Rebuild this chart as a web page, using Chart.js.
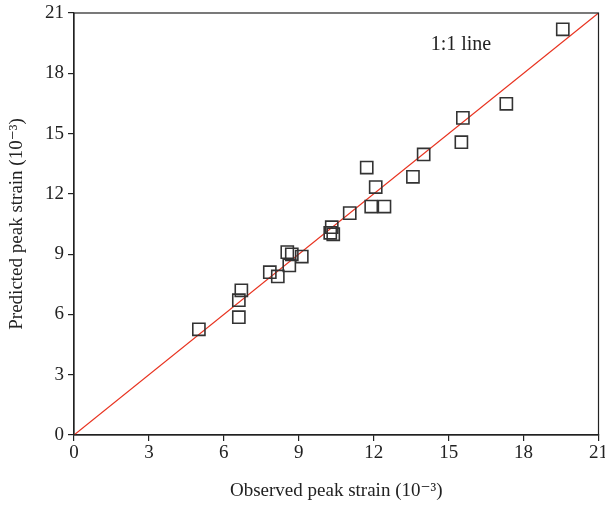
<!DOCTYPE html>
<html>
<head>
<meta charset="utf-8">
<script src="https://cdn.jsdelivr.net/npm/chart.js@4.4.1/dist/chart.umd.min.js"></script>
<style>
  html, body { margin: 0; padding: 0; background: #fff; overflow: hidden; }
  /* the "21" tick label runs past the right edge in the original, so the canvas is a bit wider and clipped */
  #wrap { width: 605px; height: 505px; overflow: hidden; }
</style>
</head>
<body>
<div id="wrap"><canvas id="c" width="609" height="505"></canvas></div>
<script>
// observed vs predicted peak strain (10^-3)
const observed = [5.0, 6.6, 6.6, 6.7, 7.84, 8.16, 8.54, 8.62, 8.72, 9.12, 10.32, 10.26, 10.38,
  11.04, 11.72, 11.9, 12.08, 12.43, 13.57, 14.0, 15.51, 15.57, 17.31, 19.57]
const predicted = [5.26, 5.86, 6.71, 7.2, 8.1, 7.89, 9.1, 8.44, 8.99, 8.88, 10.34, 10.06, 9.99,
  11.04, 13.31, 11.37, 12.34, 11.37, 12.85, 13.96, 14.57, 15.78, 16.48, 20.19]
const oneToOne = [0, 21]
const axisTicks = [0, 3, 6, 9, 12, 15, 18, 21]

const FONT = '"Liberation Serif", "DejaVu Serif", serif'

// frame around the plot + "1:1 line" label
const frame = {
  id: 'frame',
  afterDraw (chart) {
    const { ctx, chartArea: a, scales } = chart
    ctx.save()
    ctx.strokeStyle = '#222'
    ctx.lineWidth = 1.2
    ctx.strokeRect(a.left, a.top, a.right - a.left, a.bottom - a.top)
    ctx.fillStyle = '#222'
    ctx.font = '20px ' + FONT
    ctx.textBaseline = 'middle'
    ctx.fillText('1:1 line', scales.x.getPixelForValue(14.28), scales.y.getPixelForValue(19.4))
    ctx.restore()
  }
}

const tickStyle = {
  display: true,
  drawOnChartArea: false,
  drawTicks: true,
  tickLength: 6,
  color: '#222',
  lineWidth: 1.2
}

new Chart(document.getElementById('c'), {
  type: 'scatter',
  data: {
    datasets: [
      {
        label: '1:1',
        type: 'line',
        data: oneToOne.map(v => ({ x: v, y: v })),
        borderColor: '#e8321f',
        borderWidth: 1.2,
        pointRadius: 0,
        order: 2
      },
      {
        label: 'data',
        data: observed.map((x, i) => ({ x, y: predicted[i] })),
        pointStyle: 'rect',
        pointRadius: 8.6,
        pointBorderColor: '#333',
        pointBackgroundColor: 'rgba(0,0,0,0)',
        pointBorderWidth: 1.6,
        order: 1
      }
    ]
  },
  options: {
    responsive: false,
    animation: false,
    layout: { padding: { top: 13, right: 0, left: 0, bottom: 0 } },
    plugins: { legend: { display: false }, tooltip: { enabled: false } },
    scales: {
      x: {
        type: 'linear',
        min: 0,
        max: 21,
        afterBuildTicks (s) { s.ticks = axisTicks.map(v => ({ value: v })) },
        grid: tickStyle,
        border: { display: true, color: '#222', width: 1.2 },
        ticks: { color: '#222', font: { family: FONT, size: 19 }, padding: 1, maxRotation: 0 },
        title: {
          display: true,
          text: 'Observed peak strain (10⁻³)',
          color: '#222',
          font: { family: FONT, size: 19 },
          padding: { top: 4, bottom: 3 }
        },
        afterFit (s) {
          s.height = 70
          s.paddingTop = 0
          s.paddingBottom = 0
        }
      },
      y: {
        type: 'linear',
        min: 0,
        max: 21,
        afterBuildTicks (s) { s.ticks = axisTicks.map(v => ({ value: v })) },
        grid: tickStyle,
        border: { display: true, color: '#222', width: 1.2 },
        ticks: { color: '#222', font: { family: FONT, size: 19 }, padding: 4 },
        title: {
          display: true,
          text: 'Predicted peak strain (10⁻³)',
          color: '#222',
          font: { family: FONT, size: 19 },
          padding: { top: 6, bottom: 4 }
        },
        afterFit (s) {
          s.width = 74
          s.paddingTop = 0
          s.paddingBottom = 0
        }
      }
    }
  },
  plugins: [frame]
})
</script>
</body>
</html>
